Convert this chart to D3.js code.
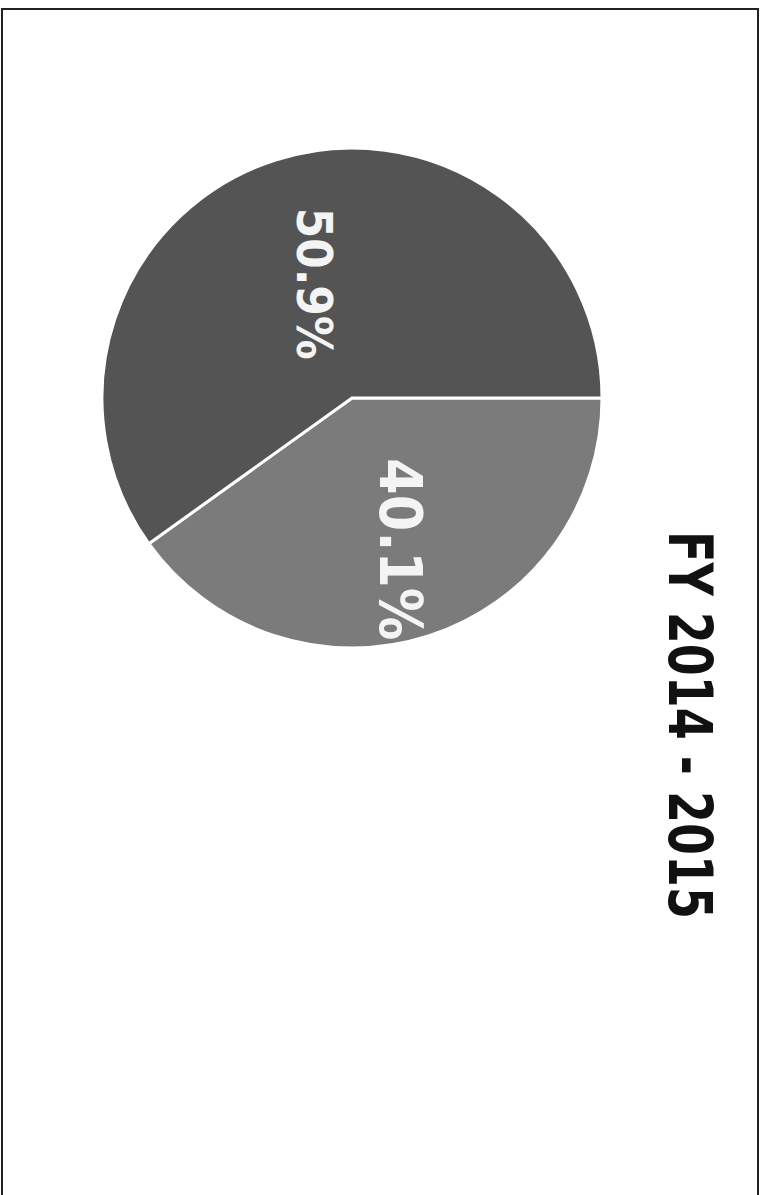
<!DOCTYPE html>
<html>
<head>
<meta charset="utf-8">
<script src="https://cdn.jsdelivr.net/npm/d3@7"></script>
<style>
  body { margin: 0; background: #fff; }
  svg { display: block; }
</style>
</head>
<body>
<div id="chart"></div>
<script>
// page is a scanned slide, turned 90 degrees clockwise
var width = 767, height = 1195;

var title = "FY 2014 - 2015";
// slice shares as drawn (angles)
var shares = [40.1, 59.9];
// labels as printed on the slices
var labels = ["40.1%", "50.9%"];
var colors = ["#7b7b7b", "#545454"];

var svg = d3.select("#chart").append("svg")
  .attr("width", width)
  .attr("height", height);

// page frame
svg.append("rect")
  .attr("x", 2).attr("y", 9)
  .attr("width", 756).attr("height", 1200)
  .attr("fill", "none")
  .attr("stroke", "#222")
  .attr("stroke-width", 2);

var cx = 352, cy = 398, radius = 250;

// first slice starts at 3 o'clock on screen (12 o'clock before rotation)
var pie = d3.pie().sort(null)
  .startAngle(Math.PI / 2)
  .endAngle(Math.PI / 2 + 2 * Math.PI);

var arc = d3.arc().innerRadius(0).outerRadius(radius);

var arcs = pie(shares);

var g = svg.append("g")
  .attr("transform", "translate(" + cx + "," + cy + ")");

g.selectAll("path.slice")
  .data(arcs)
  .enter()
  .append("path")
  .attr("class", "slice")
  .attr("d", arc)
  .attr("fill", function(d, i) { return colors[i]; })
  .attr("stroke", "#fff")
  .attr("stroke-width", 3)
  .attr("stroke-linejoin", "miter");

// label placement
var labelRadius = [159, 120];
var labelSize = [58, 50];
var labelLength = [182, 152];

g.selectAll("text.lbl")
  .data(arcs)
  .enter()
  .append("text")
  .attr("class", "lbl")
  .attr("transform", function(d, i) {
    var la = d3.arc().innerRadius(labelRadius[i]).outerRadius(labelRadius[i]);
    var c = la.centroid(d);
    return "translate(" + c[0] + "," + c[1] + ") rotate(90)";
  })
  .attr("y", function(d, i) { return labelSize[i] * 0.36; })
  .attr("text-anchor", "middle")
  .attr("font-family", "'DejaVu Sans', Verdana, sans-serif")
  .attr("font-weight", "bold")
  .attr("font-size", function(d, i) { return labelSize[i]; })
  .attr("textLength", function(d, i) { return labelLength[i]; })
  .attr("lengthAdjust", "spacingAndGlyphs")
  .attr("fill", "#f4f4f4")
  .text(function(d, i) { return labels[i]; });

// title
svg.append("text")
  .attr("transform", "translate(691,725) rotate(90)")
  .attr("y", 60 * 0.36)
  .attr("text-anchor", "middle")
  .attr("font-family", "'DejaVu Sans', Verdana, sans-serif")
  .attr("font-weight", "bold")
  .attr("font-size", 60)
  .attr("textLength", 388)
  .attr("lengthAdjust", "spacingAndGlyphs")
  .attr("fill", "#111")
  .text(title);
</script>
</body>
</html>
